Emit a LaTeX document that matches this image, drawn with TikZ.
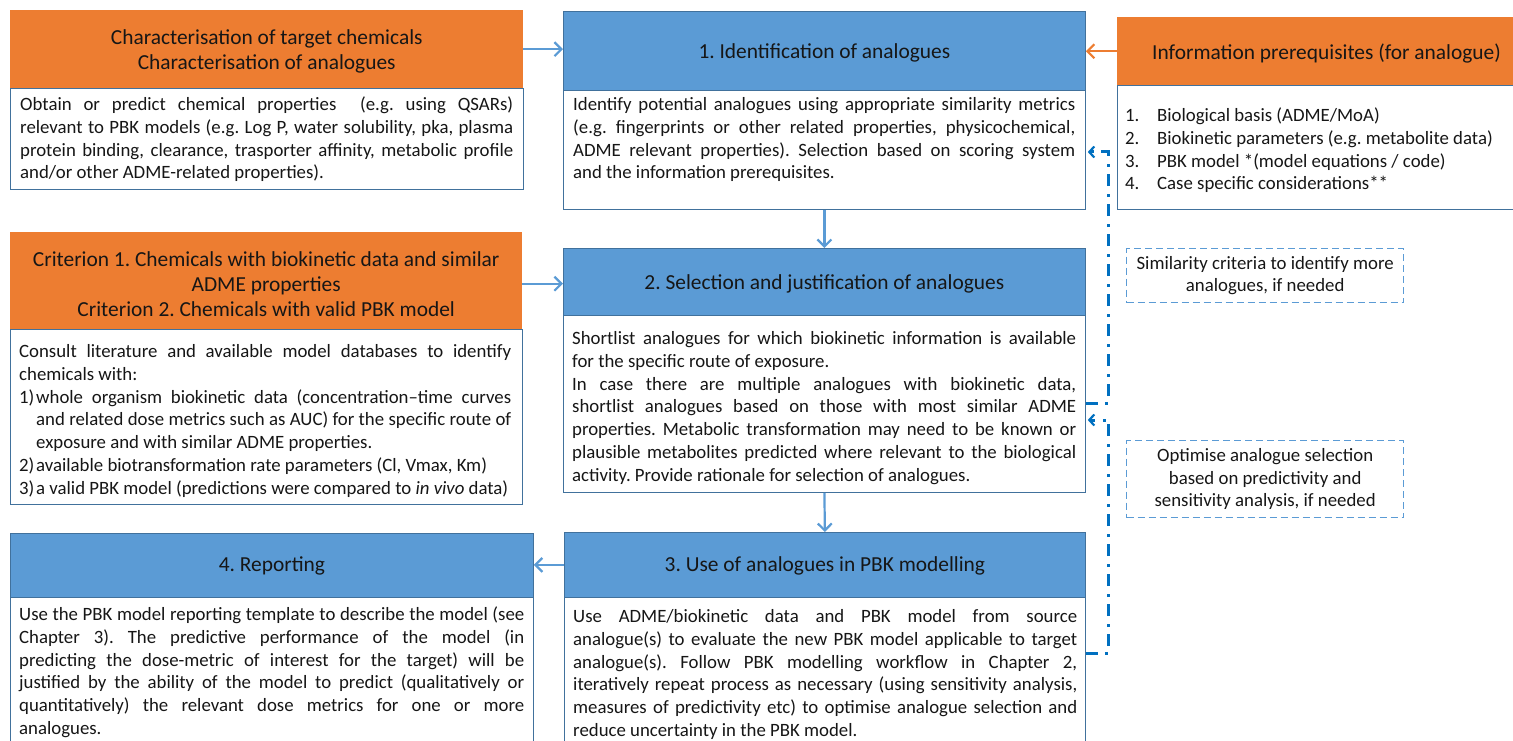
\documentclass[tikz,border=0pt]{standalone}
\usepackage{fontspec}
\setmainfont{Carlito}
\usetikzlibrary{arrows.meta,calc}

\definecolor{hdrorange}{HTML}{ED7D31}
\definecolor{hdrblue}{HTML}{5B9BD5}
\definecolor{edgeblue}{HTML}{41719C}
\definecolor{linkblue}{HTML}{5B9BD5}
\definecolor{loopblue}{HTML}{0070C0}
\definecolor{inkgray}{HTML}{161616}

\newcommand{\hdrsize}{\fontsize{21.4}{25}\selectfont}
\newcommand{\txtsize}{\fontsize{18.8}{22.8}\selectfont}
\newcommand{\itemlabel}[2]{\makebox[#1][l]{#2}}

\frenchspacing
\hyphenpenalty=10000
\exhyphenpenalty=10000
\tolerance=9999
\hbadness=10000

\begin{document}
\begin{tikzpicture}[x=1pt,y=-1pt,
  hdr/.style={rectangle, anchor=north west, inner sep=0pt},
  hdrO/.style={hdr, fill=hdrorange},
  hdrB/.style={hdr, fill=hdrblue, draw=edgeblue, line width=0.8pt},
  hdrtext/.style={inner sep=0pt, align=center, font=\hdrsize, text=inkgray},
  bodybox/.style={rectangle, anchor=north west, inner sep=0pt, fill=white,
                  draw=edgeblue, line width=0.8pt},
  bodytext/.style={anchor=north west, inner sep=0pt, font=\txtsize,
                   align=justify, text=inkgray},
  notebox/.style={rectangle, anchor=north west, inner sep=0pt, align=center,
                  font=\txtsize, text=inkgray, draw=linkblue, line width=1.3pt,
                  dash pattern=on 7pt off 4pt},
  link/.style={draw=linkblue, line width=2.2pt,
               -{Straight Barb[length=7pt,width=14pt]}},
  linkO/.style={link, draw=hdrorange},
  loopback/.style={draw=loopblue, line width=3pt,
                   dash pattern=on 12pt off 7pt on 3pt off 8pt,
                   -{Straight Barb[length=5pt,width=11pt,line width=2.2pt]}},
]
\useasboundingbox (0,0) rectangle (1513,741);
\clip (0,0) rectangle (1513,741);

% ---- characterisation of chemicals ----
\node[bodybox, minimum width=513pt, minimum height=101pt] (bA) at (10,88) {};
\node[hdrO, minimum width=513pt, minimum height=78pt] (hA) at (10,10) {};
\node[hdrtext] (hAt) at ($(hA.center)+(0,2.5)$)
  {Characterisation of target chemicals\\Characterisation of analogues};
\node[bodytext, text width=493pt] (tA) at (20,94.3)
  {\strut Obtain or predict chemical properties \ (e.g. using QSARs)\linebreak
   relevant to PBK models (e.g. Log P, water solubility, pka, plasma\linebreak
   protein binding, clearance, trasporter affinity, metabolic profile\linebreak
   and/or other ADME-related properties).};

% ---- step 1 ----
\node[bodybox, minimum width=522pt, minimum height=119pt] (b1) at (563,90) {};
\node[hdrB, minimum width=522pt, minimum height=79pt] (h1) at (563,11) {};
\node[hdrtext] (h1t) at ($(h1.center)+(0,2)$) {1. Identification of analogues};
\node[bodytext, text width=502pt] (t1) at (573,94.3)
  {\strut Identify potential analogues using appropriate similarity metrics\linebreak
   (e.g. fingerprints or other related properties, physicochemical,\linebreak
   ADME relevant properties). Selection based on scoring system\linebreak
   and the information prerequisites.};

% ---- information prerequisites ----
\node[bodybox, minimum width=410pt, minimum height=124pt] (bI) at (1117,85) {};
\node[hdrO, minimum width=410pt, minimum height=68pt] (hI) at (1117,17) {};
\node[hdrtext, anchor=west] (hIt) at ($(hI.west)+(35,2)$)
  {Information prerequisites (for analogue)};
\node[bodytext, align=left] (tI) at (1125,105.3)
  {\strut\itemlabel{32pt}{1.}Biological basis (ADME/MoA)\\
   \itemlabel{32pt}{2.}Biokinetic parameters (e.g. metabolite data)\\
   \itemlabel{32pt}{3.}PBK model *(model equations / code)\\
   \itemlabel{32pt}{4.}Case specific considerations**};

% ---- selection criteria ----
\node[bodybox, minimum width=512pt, minimum height=175pt] (bC) at (10,329) {};
\node[hdrO, minimum width=512pt, minimum height=97pt] (hC) at (10,232) {};
\node[hdrtext] (hCt) at ($(hC.center)+(0,3)$)
  {Criterion 1. Chemicals with biokinetic data and similar\\ADME properties\\
   Criterion 2. Chemicals with valid PBK model};
\node[bodytext, text width=492pt] (tC) at (19,341.3)
  {\strut Consult literature and available model databases to identify\linebreak
   chemicals with:\par
   \hangindent=17pt\hangafter=1\noindent\itemlabel{17pt}{1)}whole organism
   biokinetic data (concentration--time curves\linebreak
   and related dose metrics such as AUC) for the specific route of\linebreak
   exposure and with similar ADME properties.\par
   \noindent\itemlabel{17pt}{2)}available biotransformation rate parameters (Cl, Vmax, Km)\par
   \noindent\itemlabel{17pt}{3)}a valid PBK model (predictions were compared to
   \textit{in vivo} data)};

% ---- step 2 ----
\node[bodybox, minimum width=522pt, minimum height=177pt] (b2) at (563,315) {};
\node[hdrB, minimum width=522pt, minimum height=67pt] (h2) at (563,248) {};
\node[hdrtext] (h2t) at ($(h2.center)+(0,2)$)
  {2. Selection and justification of analogues};
\node[bodytext, text width=504pt] (t2) at (572,328.3)
  {\strut Shortlist analogues for which biokinetic information is available\linebreak
   for the specific route of exposure.\par
   In case there are multiple analogues with biokinetic data,\linebreak
   shortlist analogues based on those with most similar ADME\linebreak
   properties. Metabolic transformation may need to be known or\linebreak
   plausible metabolites predicted where relevant to the biological\linebreak
   activity. Provide rationale for selection of analogues.};

% ---- step 4 ----
\node[bodybox, minimum width=523pt, minimum height=170pt] (b4) at (10,597) {};
\node[hdrB, minimum width=523pt, minimum height=64pt] (h4) at (10,533) {};
\node[hdrtext] (h4t) at ($(h4.center)+(0,1)$) {4. Reporting};
\node[bodytext, text width=505pt] (t4) at (19,604.3)
  {\strut Use the PBK model reporting template to describe the model (see\linebreak
   Chapter 3). The predictive performance of the model (in\linebreak
   predicting the dose-metric of interest for the target) will be\linebreak
   justified by the ability of the model to predict (qualitatively or\linebreak
   quantitatively) the relevant dose metrics for one or more\linebreak
   analogues.};

% ---- step 3 ----
\node[bodybox, minimum width=521pt, minimum height=170pt] (b3) at (564,597) {};
\node[hdrB, minimum width=521pt, minimum height=65pt] (h3) at (564,532) {};
\node[hdrtext] (h3t) at ($(h3.center)+(0,1)$) {3. Use of analogues in PBK modelling};
\node[bodytext, text width=504pt] (t3) at (573,606.3)
  {\strut Use ADME/biokinetic data and PBK model from source\linebreak
   analogue(s) to evaluate the new PBK model applicable to target\linebreak
   analogue(s). Follow PBK modelling workflow in Chapter 2,\linebreak
   iteratively repeat process as necessary (using sensitivity analysis,\linebreak
   measures of predictivity etc) to optimise analogue selection and\linebreak
   reduce uncertainty in the PBK model.};

% ---- iteration notes ----
\node[notebox, minimum width=277pt, minimum height=54pt] (n1) at (1126,248)
  {Similarity criteria to identify more\\analogues, if needed};
\node[notebox, minimum width=277pt, minimum height=77pt] (n2) at (1126,440)
  {Optimise analogue selection\\based on predictivity and\\sensitivity analysis, if needed};

% ---- main flow ----
\draw[link] (hA.east) -- (hA.east -| h1.west);
\draw[link] ($(hC.east)+(0,3)$) -- ($(hC.east -| h2.west)+(0,3)$);
\draw[linkO] (hI.west) -- (hI.west -| h1.east);
\draw[link] (b1.south) -- (h2.north);
\draw[link] (b2.south) -- (h3.north);
\draw[link] (h3.west) -- (h3.west -| h4.east);

% ---- feedback loops ----
\coordinate (b2out) at ($(b2.north east)+(0,88)$);
\coordinate (b1in)  at ($(b1.north east)+(2,62)$);
\coordinate (b3out) at ($(b3.north east)+(0,56)$);
\coordinate (b2in)  at ($(b2.north east)+(2,105)$);
\draw[loopback] (b2out) -- ++(23,0) |- (b1in);
\draw[loopback] (b3out) -- ++(23,0) |- (b2in);
\end{tikzpicture}
\end{document}
